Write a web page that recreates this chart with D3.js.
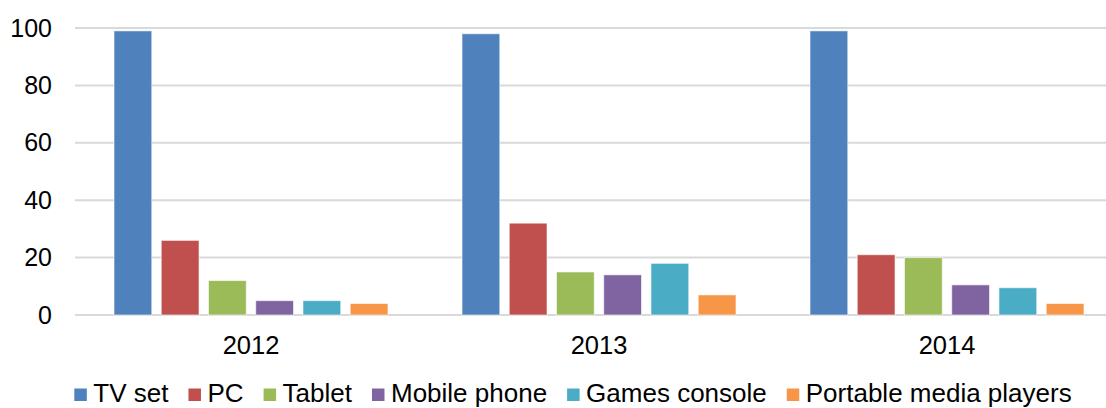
<!DOCTYPE html>
<html>
<head>
<meta charset="utf-8">
<script src="https://cdn.jsdelivr.net/npm/d3@7"></script>
<style>
  body { margin: 0; background: white; }
  text { font-family: Arial, "Liberation Sans", sans-serif; fill: #000; }
</style>
</head>
<body>
<script>
let years = ['2012', '2013', '2014']
let devices = ['TV set', 'PC', 'Tablet', 'Mobile phone', 'Games console', 'Portable media players']
let tv = [99, 98, 99]
let pc = [26, 32, 21]
let tablet = [12, 15, 20]
let mobile = [5, 14, 10.5]
let games = [5, 18, 9.5]
let portable = [4, 7, 4]
let yTicks = [0, 20, 40, 60, 80, 100]
let colors = ['#4F81BD', '#C0504D', '#9BBB59', '#8064A2', '#4BACC6', '#F79646']

function main(){
    let width = 1106
    let height = 408
    let series = [tv, pc, tablet, mobile, games, portable]

    let svg = d3.select('body')
        .append('svg')
        .attr('width', width)
        .attr('height', height)

    let x0 = d3.scaleBand()
        .domain(years)
        .range([77, 1121])
        .paddingInner(0)
        .paddingOuter(0)
    let x1 = d3.scaleBand()
        .domain(devices)
        .range([37, x0.bandwidth() - 37])
        .paddingInner(0.2)
        .paddingOuter(0)
    let y = d3.scaleLinear()
        .domain([0, 100])
        .range([315, 28])

    // gridlines
    svg.append('g')
        .selectAll('line')
        .data(yTicks)
        .enter()
        .append('line')
        .attr('x1', 75)
        .attr('x2', width)
        .attr('y1', d => y(d))
        .attr('y2', d => y(d))
        .attr('stroke', '#d9d9d9')
        .attr('stroke-width', 2)

    // y labels
    let yAxis = d3.axisLeft(y).tickValues(yTicks).tickSize(0).tickPadding(23)
    let ya = svg.append('g')
        .attr('transform', 'translate(75,0)')
        .call(yAxis)
    ya.select('.domain').remove()
    ya.selectAll('text')
        .attr('font-size', '25px')
        .attr('font-family', 'Arial, "Liberation Sans", sans-serif')
        .attr('fill', '#000')

    // x labels
    let xAxis = d3.axisBottom(x0).tickSize(0).tickPadding(21)
    let xa = svg.append('g')
        .attr('transform', 'translate(0,315)')
        .call(xAxis)
    xa.select('.domain').remove()
    xa.selectAll('text')
        .attr('font-size', '25.5px')
        .attr('font-family', 'Arial, "Liberation Sans", sans-serif')
        .attr('fill', '#000')

    // bars
    let groups = svg.selectAll('.year')
        .data(years)
        .enter()
        .append('g')
        .attr('class', 'year')
        .attr('transform', d => 'translate(' + x0(d) + ',0)')
    groups.selectAll('rect')
        .data((d, i) => devices.map((dev, j) => ({dev: dev, v: series[j][i], c: colors[j]})))
        .enter()
        .append('rect')
        .attr('x', d => x1(d.dev))
        .attr('y', d => y(d.v))
        .attr('width', x1.bandwidth())
        .attr('height', d => y(0) - y(d.v))
        .attr('fill', d => d.c)
        .attr('stroke', 'rgba(255,255,255,0.6)')
        .attr('stroke-width', 1)

    // legend
    let legend = svg.append('g')
    let xPos = 0
    devices.forEach(function (d, i){
        let item = legend.append('g').attr('transform', 'translate(' + xPos + ',0)')
        item.append('rect')
            .attr('x', 0)
            .attr('y', 388.5)
            .attr('width', 12.5)
            .attr('height', 12.5)
            .attr('fill', colors[i])
        let t = item.append('text')
            .attr('x', 19)
            .attr('y', 402)
            .attr('font-size', '26px')
            .text(d)
        xPos += 19 + t.node().getComputedTextLength() + 20
    })
    let legendW = xPos - 20
    legend.attr('transform', 'translate(' + (573 - legendW / 2) + ',0)')
}

main()
</script>
</body>
</html>
